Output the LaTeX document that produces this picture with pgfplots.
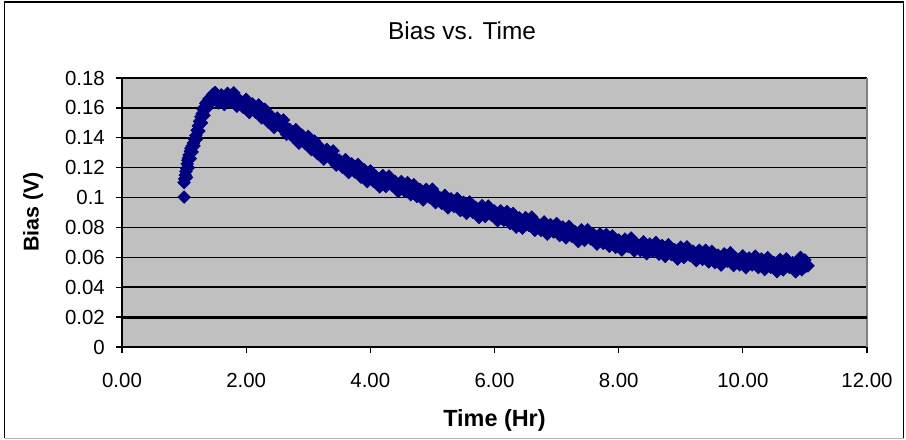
\documentclass[border=0pt]{standalone}
\usepackage{fontspec}
\setmainfont{Liberation Sans}
\usepackage{pgfplots}
\pgfplotsset{compat=1.18}
\definecolor{bggray}{RGB}{192,192,192}
\definecolor{navyblue}{RGB}{0,0,128}
\definecolor{bordergray}{RGB}{128,128,128}
\begin{document}
\begin{tikzpicture}[x=1bp,y=1bp]
\useasboundingbox (0,0) rectangle (906,440);
\fill[white] (0,0) rectangle (906,440);
\draw[line width=1.5bp,black] (4.5,1.5) -- (4.5,438) -- (903.5,438) -- (903.5,1.5);
\draw[line width=1.2bp,black!30] (4.5,1.5) -- (903.5,1.5);
\begin{axis}[
  at={(122bp,93bp)}, anchor=south west,
  scale only axis, width=745bp, height=269bp,
  xmin=0, xmax=12, ymin=0, ymax=0.18,
  xtick={0,2,4,6,8,10,12},
  ytick={0,0.02,0.04,0.06,0.08,0.1,0.12,0.14,0.16,0.18},
  axis x line=bottom, axis y line=left,
  axis line style={-, black, line width=1.5bp},
  axis background/.style={fill=bggray},
  ymajorgrids=true,
  major grid style={black, line width=1.5bp},
  tick align=outside,
  major tick length=6bp,
  tick style={black, line width=1.3bp},
  /pgf/number format/assume math mode=true,
  tick label style={font=\fontsize{20.5}{20.5}\selectfont},
  xticklabel style={/pgf/number format/.cd, fixed, fixed zerofill, precision=2, /tikz/.cd, anchor=north, inner sep=0pt, yshift=-20.5bp},
  yticklabel style={/pgf/number format/.cd, fixed, precision=2, /tikz/.cd, anchor=east, inner sep=0pt, xshift=-11bp},
  extra x ticks={12}, extra x tick labels={},
  extra x tick style={xmajorgrids=true, major grid style={bordergray, line width=1.3bp}},
  title={Bias vs. Time},
  title style={at={(axis description cs:0.4564,1.152)}, anchor=center, inner sep=0pt, font=\fontsize{24.5}{24.5}\selectfont},
  xlabel={Time (Hr)},
  xlabel style={at={(axis description cs:0.5,-0.272)}, anchor=center, inner sep=0pt, font=\bfseries\fontsize{23.5}{23.5}\selectfont},
  ylabel={Bias (V)},
  ylabel style={at={(axis description cs:-0.1195,0.502)}, anchor=center, inner sep=0pt, rotate=0, font=\bfseries\fontsize{21.5}{21.5}\selectfont},
]
\draw[black, line width=2.8bp] (axis cs:0,0.02) -- (axis cs:12,0.02);
\addplot[only marks, mark=square*, mark size=4.5bp, mark options={rotate=45, fill=navyblue, draw=navyblue, line width=0.5bp}] coordinates {
(1.00,0.1003) (1.00,0.1100) (1.01,0.1125) (1.02,0.1150) (1.03,0.1175) (1.04,0.1195)
(1.05,0.1225) (1.06,0.1250) (1.07,0.1265) (1.08,0.1285) (1.10,0.1310) (1.11,0.1330)
(1.13,0.1345) (1.15,0.1365) (1.17,0.1390) (1.19,0.1415) (1.21,0.1450) (1.23,0.1480)
(1.25,0.1510) (1.27,0.1540) (1.29,0.1560) (1.31,0.1590) (1.33,0.1605) (1.35,0.1630)
(1.37,0.1640) (1.40,0.1660) (1.43,0.1665) (1.46,0.1690)
(1.04,0.1135) (1.07,0.1200) (1.10,0.1260) (1.13,0.1305) (1.16,0.1345) (1.20,0.1390)
(1.24,0.1445) (1.28,0.1500) (1.32,0.1550) (1.37,0.1600) (1.42,0.1630)
(1.50,0.1703) (1.55,0.1633) (1.60,0.1687) (1.65,0.1622) (1.70,0.1697) (1.75,0.1646)
(1.80,0.1701) (1.85,0.1611) (1.90,0.1650) (1.95,0.1604) (2.00,0.1657) (2.05,0.1569)
(2.10,0.1626) (2.15,0.1571) (2.20,0.1620) (2.25,0.1533) (2.30,0.1591) (2.35,0.1506)
(2.40,0.1546) (2.45,0.1469) (2.50,0.1532) (2.55,0.1473) (2.60,0.1519) (2.65,0.1423)
(2.70,0.1456) (2.75,0.1406) (2.80,0.1454) (2.85,0.1364) (2.90,0.1418) (2.95,0.1361)
(3.00,0.1409) (3.05,0.1321) (3.10,0.1378) (3.15,0.1293) (3.20,0.1333) (3.25,0.1257)
(3.30,0.1322) (3.35,0.1264) (3.40,0.1312) (3.45,0.1217) (3.50,0.1250) (3.55,0.1203)
(3.60,0.1254) (3.65,0.1167) (3.70,0.1225) (3.75,0.1171) (3.80,0.1221) (3.85,0.1136)
(3.90,0.1186) (3.95,0.1107) (4.00,0.1178) (4.05,0.1109) (4.10,0.1137) (4.15,0.1071)
(4.20,0.1147) (4.25,0.1074) (4.30,0.1143) (4.35,0.1080) (4.40,0.1107) (4.45,0.1041)
(4.50,0.1107) (4.55,0.1042) (4.60,0.1100) (4.65,0.1019) (4.70,0.1086) (4.75,0.1007)
(4.80,0.1054) (4.85,0.0984) (4.90,0.1055) (4.95,0.1002) (5.00,0.1056) (5.05,0.0966)
(5.10,0.1005) (5.15,0.0961) (5.20,0.1015) (5.25,0.0931) (5.30,0.0991) (5.35,0.0940)
(5.40,0.0993) (5.45,0.0913) (5.50,0.0968) (5.55,0.0894) (5.60,0.0970) (5.65,0.0902)
(5.70,0.0932) (5.75,0.0867) (5.80,0.0945) (5.85,0.0873) (5.90,0.0943) (5.95,0.0882)
(6.00,0.0910) (6.05,0.0845) (6.10,0.0911) (6.15,0.0848) (6.20,0.0906) (6.25,0.0826)
(6.30,0.0894) (6.35,0.0802) (6.40,0.0864) (6.45,0.0795) (6.50,0.0866) (6.55,0.0815)
(6.60,0.0869) (6.65,0.0781) (6.70,0.0822) (6.75,0.0780) (6.80,0.0837) (6.85,0.0755)
(6.90,0.0819) (6.95,0.0770) (7.00,0.0826) (7.05,0.0746) (7.10,0.0803) (7.15,0.0730)
(7.20,0.0807) (7.25,0.0740) (7.30,0.0770) (7.35,0.0706) (7.40,0.0784) (7.45,0.0713)
(7.50,0.0784) (7.55,0.0723) (7.60,0.0752) (7.65,0.0688) (7.70,0.0756) (7.75,0.0693)
(7.80,0.0753) (7.85,0.0674) (7.90,0.0743) (7.95,0.0667) (8.00,0.0716) (8.05,0.0649)
(8.10,0.0722) (8.15,0.0673) (8.20,0.0729) (8.25,0.0643) (8.30,0.0686) (8.35,0.0646)
(8.40,0.0704) (8.45,0.0624) (8.50,0.0689) (8.55,0.0641) (8.60,0.0699) (8.65,0.0621)
(8.70,0.0679) (8.75,0.0606) (8.80,0.0685) (8.85,0.0619) (8.90,0.0651) (8.95,0.0588)
(9.00,0.0668) (9.05,0.0598) (9.10,0.0670) (9.15,0.0611) (9.20,0.0641) (9.25,0.0578)
(9.30,0.0647) (9.35,0.0586) (9.40,0.0647) (9.45,0.0569) (9.50,0.0640) (9.55,0.0565)
(9.60,0.0615) (9.65,0.0548) (9.70,0.0623) (9.75,0.0574) (9.80,0.0631) (9.85,0.0545)
(9.90,0.0590) (9.95,0.0550) (10.00,0.0610) (10.05,0.0530) (10.10,0.0596) (10.15,0.0549)
(10.20,0.0608) (10.25,0.0531) (10.30,0.0589) (10.35,0.0518) (10.40,0.0598) (10.45,0.0533)
(10.50,0.0566) (10.55,0.0504) (10.60,0.0585) (10.65,0.0516) (10.70,0.0590) (10.75,0.0532)
(10.80,0.0564) (10.85,0.0503) (10.90,0.0575) (10.93,0.0600) (10.95,0.0517) (11.00,0.0582)
(11.05,0.0543)
(1.525,0.1670) (1.575,0.1665) (1.625,0.1669) (1.675,0.1661) (1.725,0.1666) (1.775,0.1658)
(1.825,0.1650) (1.875,0.1649) (1.925,0.1640) (1.975,0.1624) (2.025,0.1618) (2.075,0.1601)
(2.125,0.1598) (2.175,0.1583) (2.225,0.1569) (2.275,0.1564) (2.325,0.1551) (2.375,0.1531)
(2.425,0.1522) (2.475,0.1502) (2.525,0.1497) (2.575,0.1480) (2.625,0.1465) (2.675,0.1458)
(2.725,0.1444) (2.775,0.1423) (2.825,0.1414) (2.875,0.1394) (2.925,0.1389) (2.975,0.1373)
(3.025,0.1358) (3.075,0.1352) (3.125,0.1338) (3.175,0.1318) (3.225,0.1309) (3.275,0.1291)
(3.325,0.1287) (3.375,0.1272) (3.425,0.1258) (3.475,0.1252) (3.525,0.1239) (3.575,0.1222)
(3.625,0.1215) (3.675,0.1199) (3.725,0.1197) (3.775,0.1184) (3.825,0.1171) (3.875,0.1168)
(3.925,0.1156) (3.975,0.1139) (4.025,0.1134) (4.075,0.1122) (4.125,0.1123) (4.175,0.1114)
(4.225,0.1105) (4.275,0.1106) (4.325,0.1099) (4.375,0.1085) (4.425,0.1083) (4.475,0.1071)
(4.525,0.1073) (4.575,0.1063) (4.625,0.1055) (4.675,0.1056) (4.725,0.1049) (4.775,0.1035)
(4.825,0.1033) (4.875,0.1021) (4.925,0.1023) (4.975,0.1013) (5.025,0.1005) (5.075,0.1004)
(5.125,0.0996) (5.175,0.0981) (5.225,0.0978) (5.275,0.0964) (5.325,0.0965) (5.375,0.0954)
(5.425,0.0946) (5.475,0.0947) (5.525,0.0941) (5.575,0.0928) (5.625,0.0927) (5.675,0.0916)
(5.725,0.0919) (5.775,0.0911) (5.825,0.0904) (5.875,0.0906) (5.925,0.0900) (5.975,0.0888)
(6.025,0.0887) (6.075,0.0875) (6.125,0.0878) (6.175,0.0869) (6.225,0.0862) (6.275,0.0864)
(6.325,0.0845) (6.375,0.0835) (6.425,0.0835) (6.475,0.0832) (6.525,0.0835) (6.575,0.0826)
(6.625,0.0819) (6.675,0.0820) (6.725,0.0814) (6.775,0.0802) (6.825,0.0801) (6.875,0.0790)
(6.925,0.0794) (6.975,0.0786) (7.025,0.0779) (7.075,0.0781) (7.125,0.0776) (7.175,0.0765)
(7.225,0.0764) (7.275,0.0754) (7.325,0.0757) (7.375,0.0750) (7.425,0.0743) (7.475,0.0746)
(7.525,0.0741) (7.575,0.0729) (7.625,0.0729) (7.675,0.0719) (7.725,0.0723) (7.775,0.0715)
(7.825,0.0709) (7.875,0.0712) (7.925,0.0707) (7.975,0.0696) (8.025,0.0697) (8.075,0.0687)
(8.125,0.0692) (8.175,0.0685) (8.225,0.0680) (8.275,0.0683) (8.325,0.0679) (8.375,0.0668)
(8.425,0.0669) (8.475,0.0660) (8.525,0.0664) (8.575,0.0658) (8.625,0.0653) (8.675,0.0657)
(8.725,0.0652) (8.775,0.0642) (8.825,0.0643) (8.875,0.0634) (8.925,0.0639) (8.975,0.0633)
(9.025,0.0628) (9.075,0.0632) (9.125,0.0628) (9.175,0.0618) (9.225,0.0619) (9.275,0.0610)
(9.325,0.0615) (9.375,0.0609) (9.425,0.0604) (9.475,0.0608) (9.525,0.0605) (9.575,0.0595)
(9.625,0.0596) (9.675,0.0587) (9.725,0.0593) (9.775,0.0587) (9.825,0.0582) (9.875,0.0586)
(9.925,0.0583) (9.975,0.0573) (10.025,0.0575) (10.075,0.0566) (10.125,0.0572) (10.175,0.0566)
(10.225,0.0562) (10.275,0.0567) (10.325,0.0563) (10.375,0.0554) (10.425,0.0556) (10.475,0.0548)
(10.525,0.0554) (10.575,0.0549) (10.625,0.0545) (10.675,0.0551) (10.725,0.0548) (10.775,0.0540)
(10.825,0.0543) (10.875,0.0536) (10.925,0.0544) (10.975,0.0541) (11.025,0.0543)
};
\end{axis}
\end{tikzpicture}
\end{document}
